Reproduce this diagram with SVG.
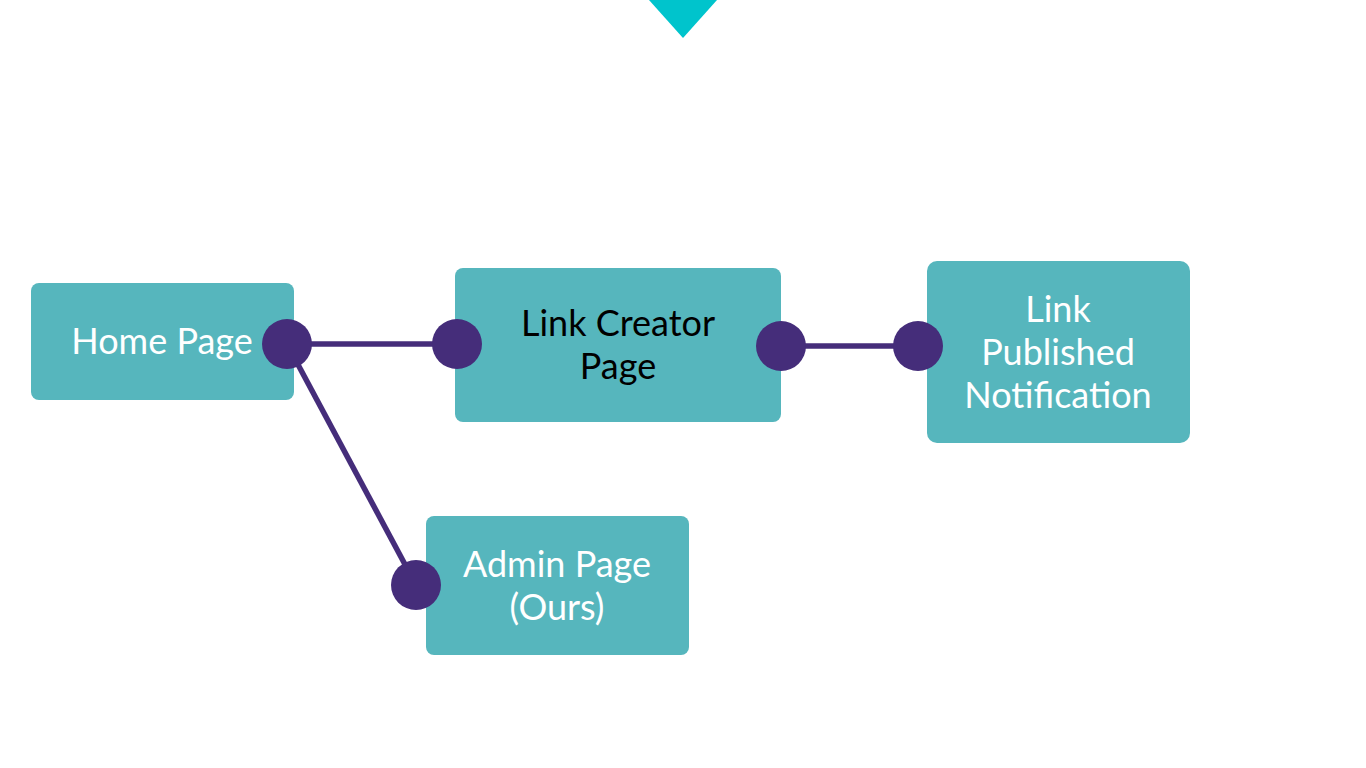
<svg xmlns="http://www.w3.org/2000/svg" width="1366" height="768" viewBox="0 0 1366 768">
<style>
.box{fill:#56B6BD}
.t{font-family:Lato,"Open Sans",sans-serif;font-size:36px;fill:#ffffff;text-anchor:middle}
.dark{fill:#000000}
.dot{fill:#452D7A}
.ln{stroke:#452D7A;stroke-width:5.5;fill:none}
</style>
<rect width="1366" height="768" fill="#ffffff"/>
<polygon points="649,0 717,0 683,38" fill="#00C4CC"/>
<g id="connectors">
<line class="ln" x1="287" y1="344" x2="457" y2="344"/>
<line class="ln" x1="781" y1="346" x2="918" y2="346"/>
<line class="ln" x1="287" y1="344" x2="416" y2="585"/>
</g>
<g id="home">
<rect class="box" x="31" y="283" width="263" height="117" rx="8"/>
<text class="t" x="162" y="354">Home Page</text>
</g>
<g id="creator">
<rect class="box" x="455" y="268" width="326" height="154" rx="8"/>
<text class="t dark" x="618" y="336">Link Creator</text>
<text class="t dark" x="618" y="379">Page</text>
</g>
<g id="notification">
<rect class="box" x="927" y="261" width="263" height="182" rx="10"/>
<text class="t" x="1058" y="322">Link</text>
<text class="t" x="1058" y="365">Published</text>
<text class="t" x="1058" y="408">Notification</text>
</g>
<g id="admin">
<rect class="box" x="426" y="516" width="263" height="139" rx="8"/>
<text class="t" x="557" y="577">Admin Page</text>
<text class="t" x="557" y="620">(Ours)</text>
</g>
<g id="dots">
<circle class="dot" cx="287" cy="344" r="25"/>
<circle class="dot" cx="457" cy="344" r="25"/>
<circle class="dot" cx="781" cy="346" r="25"/>
<circle class="dot" cx="918" cy="346" r="25"/>
<circle class="dot" cx="416" cy="585" r="25"/>
</g>
</svg>
